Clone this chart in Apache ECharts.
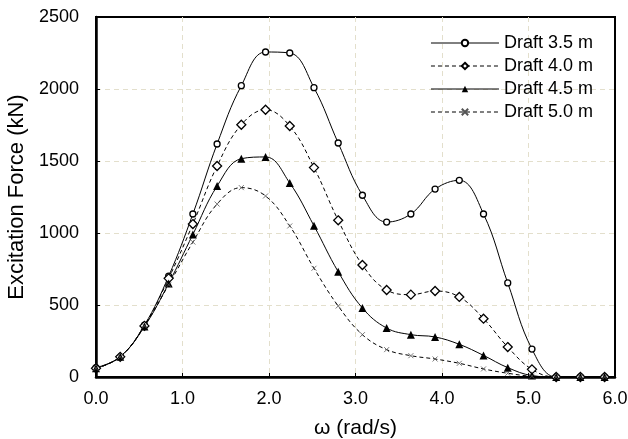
<!DOCTYPE html>
<html>
<head>
<meta charset="utf-8">
<script src="https://cdn.jsdelivr.net/npm/echarts@6/dist/echarts.min.js"></script>
<style>
  html, body { margin: 0; padding: 0; background: #fff; }
  #chart { width: 628px; height: 439px; }
</style>
</head>
<body>
<div id="chart"></div>
<script>
const chart = echarts.init(document.getElementById('chart'));

// ω (rad/s)
const omega = [0, 0.28, 0.56, 0.84, 1.12, 1.40, 1.68, 1.96, 2.24, 2.52, 2.80,
               3.08, 3.36, 3.64, 3.92, 4.20, 4.48, 4.76, 5.04, 5.32, 5.60, 5.88];

const draft35 = [65, 140, 360, 700, 1132, 1618, 2023, 2257, 2250, 2009, 1625,
                 1262, 1076, 1132, 1305, 1366, 1132, 653, 194, 0, 0, 0];
const draft40 = [60, 140, 355, 685, 1062, 1465, 1752, 1856, 1743, 1454, 1088,
                 778, 604, 572, 597, 556, 405, 208, 53, 0, 0, 0];
const draft45 = [60, 140, 350, 650, 990, 1326, 1516, 1528, 1347, 1050, 731,
                 479, 340, 294, 278, 227, 150, 65, 10, 0, 0, 0];
const draft50 = [60, 140, 355, 640, 937, 1201, 1315, 1257, 1049, 755, 493,
                 294, 190, 148, 125, 95, 56, 26, 5, 0, 0, 0];

const seriesNames = ['Draft 3.5 m', 'Draft 4.0 m', 'Draft 4.5 m', 'Draft 5.0 m'];

function pairs(ys) {
    return omega.map(function (x, i) { return [x, ys[i]]; });
}

const gridLine = {
    show: true, showMinLine: false, showMaxLine: false,
    lineStyle: { color: '#e3dfcc', type: [5, 4], width: 1 }
};
const font = 'Liberation Sans, Arial, sans-serif';

var option = {
    animation: false,
    backgroundColor: '#fff',
    grid: {
        left: 96, right: 13, top: 17, bottom: 62,
        outerBoundsMode: 'none',
        show: true, borderColor: '#000', borderWidth: 2
    },
    legend: {
        right: 30, top: 29,
        orient: 'vertical',
        itemWidth: 68, itemHeight: 8,
        itemGap: 5,
        data: seriesNames,
        lineStyle: { width: 1 },
        textStyle: { color: '#000', fontSize: 18, fontFamily: font }
    },
    xAxis: {
        type: 'value',
        min: 0, max: 6, interval: 1,
        name: 'ω (rad/s)',
        nameLocation: 'middle',
        nameGap: 41,
        nameTextStyle: { color: '#000', fontSize: 21, fontFamily: font },
        axisLine: { lineStyle: { color: '#000', width: 2.5 } },
        axisTick: { inside: true, length: 4, lineStyle: { color: '#000' } },
        axisLabel: {
            color: '#000', fontSize: 18, fontFamily: font, margin: 13,
            formatter: function (v) { return v.toFixed(1); }
        },
        splitLine: gridLine
    },
    yAxis: {
        type: 'value',
        min: 0, max: 2500, interval: 500,
        name: 'Excitation Force (kN)',
        nameLocation: 'middle',
        nameGap: 66,
        nameTextStyle: { color: '#000', fontSize: 22, fontFamily: font },
        axisLine: { show: true, lineStyle: { color: '#000', width: 2.5 } },
        axisTick: { show: true, inside: true, length: 4, lineStyle: { color: '#000' } },
        axisLabel: {
            color: '#000', fontSize: 18, fontFamily: font, margin: 17,
            formatter: function (v) { return String(v); }
        },
        splitLine: gridLine
    },
    series: [
        {
            name: seriesNames[0], type: 'line', smooth: 0.4,
            data: pairs(draft35),
            symbol: 'circle', symbolSize: 6,
            lineStyle: { color: '#000', width: 1 },
            itemStyle: { color: '#fff', borderColor: '#000', borderWidth: 1.3 }
        },
        {
            name: seriesNames[1], type: 'line', smooth: 0.4,
            data: pairs(draft40),
            symbol: 'diamond', symbolSize: 9,
            lineStyle: { color: '#000', width: 1, type: [4, 3] },
            itemStyle: { color: '#fff', borderColor: '#000', borderWidth: 1.3 }
        },
        {
            name: seriesNames[2], type: 'line', smooth: 0.4,
            data: pairs(draft45),
            symbol: 'triangle', symbolSize: 8,
            lineStyle: { color: '#000', width: 1 },
            itemStyle: { color: '#000', borderColor: '#000', borderWidth: 0 }
        },
        {
            name: seriesNames[3], type: 'line', smooth: 0.4,
            data: pairs(draft50),
            symbol: 'path://M0,0L10,10M10,0L0,10', symbolSize: 5,
            lineStyle: { color: '#000', width: 1, type: [4, 3] },
            itemStyle: { color: '#000', borderColor: '#555', borderWidth: 0.8 }
        }
    ]
};
option && chart.setOption(option);
</script>
</body>
</html>
